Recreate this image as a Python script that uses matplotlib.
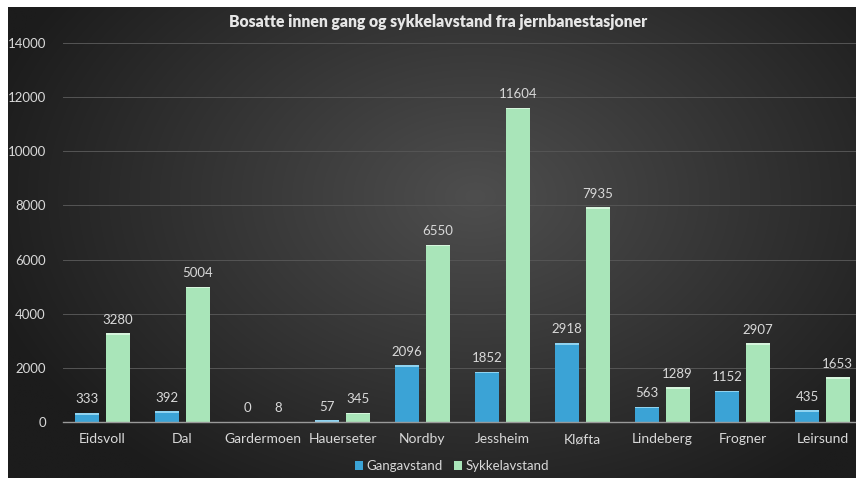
import numpy as np
import matplotlib
matplotlib.use("Agg")
import matplotlib.pyplot as plt

categories = ["Eidsvoll", "Dal", "Gardermoen", "Hauerseter", "Nordby",
              "Jessheim", "Kløfta", "Lindeberg", "Frogner", "Leirsund"]
gangavstand = [333, 392, 0, 57, 2096, 1852, 2918, 563, 1152, 435]
sykkelavstand = [3280, 5004, 8, 345, 6550, 11604, 7935, 1289, 2907, 1653]
yticks = [0, 2000, 4000, 6000, 8000, 10000, 12000, 14000]
title = "Bosatte innen gang og sykkelavstand fra jernbanestasjoner"

plt.rcParams['font.family'] = ['Lato', 'DejaVu Sans']
W, H = 856, 478
fig = plt.figure(figsize=(W/100, H/100), dpi=100, facecolor="white")

# background gradient panel
bg = fig.add_axes([8/W, 0, (W-8)/W, (H-7)/H])
ny, nx = 200, 400
yy, xx = np.mgrid[0:ny, 0:nx]
cx, cy = nx*0.55, ny*0.40
d = np.sqrt(((xx-cx)/(nx*0.6))**2 + ((yy-cy)/(ny*0.75))**2)
v = np.clip(78 - 50*d, 28, 80)/255.0
img = np.dstack([v, v, v])
bg.imshow(img, aspect="auto", extent=[0, 1, 0, 1], interpolation="bilinear")
bg.set_axis_off()

ax = fig.add_axes([62.5/W, 56/H, 800/W, 379/H])
ax.set_facecolor("none")
x = np.arange(len(categories))
w = 0.3
off = 0.19
blue = "#3ba3d6"
green = "#a9e5b9"
b1 = ax.bar(x - off, gangavstand, w, color=blue, label="Gangavstand", zorder=3)
b2 = ax.bar(x + off, sykkelavstand, w, color=green, label="Sykkelavstand", zorder=3)
# lighter caps
ax.bar(x - off, [min(60, g) for g in gangavstand], w, bottom=[max(g-60, 0) for g in gangavstand],
       color="#8fd3f0", zorder=4, linewidth=0)
ax.bar(x + off, [min(60, s) for s in sykkelavstand], w, bottom=[max(s-60, 0) for s in sykkelavstand],
       color="#d6f5dd", zorder=4, linewidth=0)

txt = "#d9d9d9"
for xi, g, s in zip(x, gangavstand, sykkelavstand):
    ax.text(xi - off, g + 280, str(g), ha="center", va="bottom", color=txt, fontsize=9.5)
    ax.text(xi + off, s + 280, str(s), ha="center", va="bottom", color=txt, fontsize=9.5)

ax.set_xlim(-0.5, len(categories) - 0.5)
ax.set_ylim(0, 14000)
ax.set_yticks(yticks)
ax.set_yticklabels([str(t) for t in yticks], color=txt, fontsize=9.5)
ax.set_xticks(x)
ax.set_xticklabels(categories, color=txt, fontsize=10)
ax.tick_params(axis="both", length=0)
ax.tick_params(axis="y", pad=12)
ax.tick_params(axis="x", pad=8)
ax.grid(axis="y", color="#555555", linewidth=0.7, zorder=0)
for sp in ["top", "right", "left"]:
    ax.spines[sp].set_visible(False)
ax.spines["bottom"].set_color("#9a9a9a")
ax.spines["bottom"].set_linewidth(1.0)
ax.spines["bottom"].set_zorder(5)

fig.text(438/W, 1 - 22/H, title, ha="center", va="center", color="#e6e6e6",
         fontsize=11.3, fontweight="heavy")

leg = fig.legend(handles=[b1, b2], loc="center", bbox_to_anchor=(452/W, 1 - 466/H),
                 ncol=2, frameon=False, fontsize=9.5, handlelength=0.6, handleheight=0.6,
                 handletextpad=0.3, columnspacing=0.8)
for t in leg.get_texts():
    t.set_color(txt)

fig.savefig("out.png", dpi=100, facecolor="white")
